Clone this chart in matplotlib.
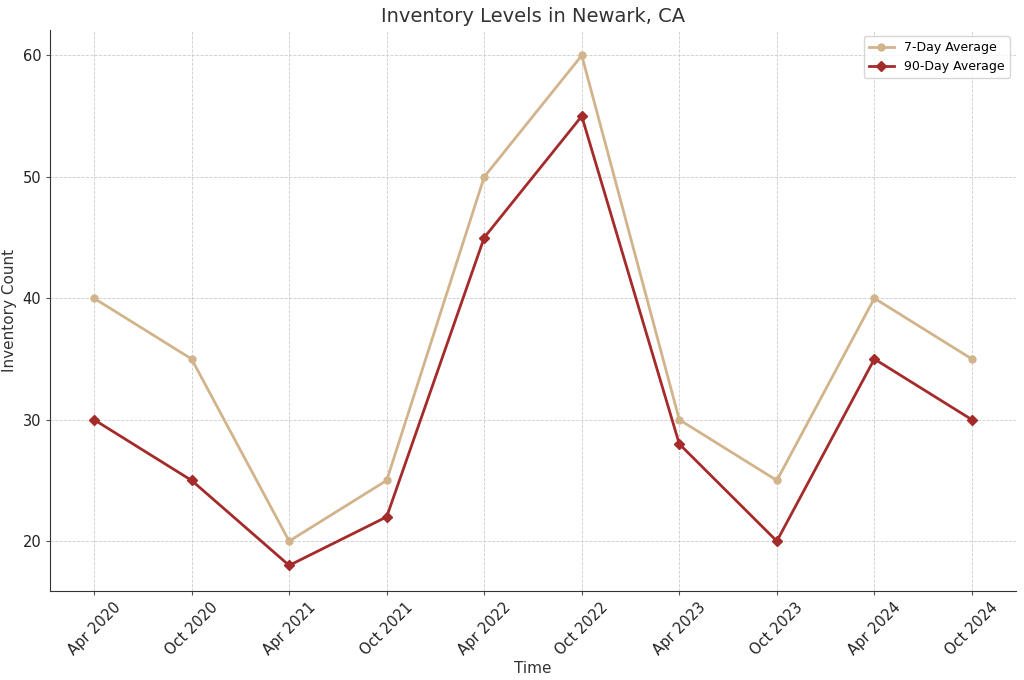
import matplotlib
matplotlib.use("Agg")
import matplotlib.pyplot as plt

# data
periods = ["Apr 2020", "Oct 2020", "Apr 2021", "Oct 2021", "Apr 2022",
           "Oct 2022", "Apr 2023", "Oct 2023", "Apr 2024", "Oct 2024"]
avg_7day = [40, 35, 20, 25, 50, 60, 30, 25, 40, 35]
avg_90day = [30, 25, 18, 22, 45, 55, 28, 20, 35, 30]

fig, ax = plt.subplots(figsize=(10.24, 6.8), dpi=100)
x = list(range(len(periods)))

ax.plot(x, avg_7day, color="#D2B48C", marker="o", markersize=5, linewidth=2, label="7-Day Average")
ax.plot(x, avg_90day, color="#A52A2A", marker="D", markersize=5, linewidth=2, label="90-Day Average")

ax.set_xticks(x)
ax.set_xticklabels(periods, rotation=45, fontsize=10.5, color="#222222")
ax.tick_params(axis="both", length=3, color="#555555", labelsize=10.5, labelcolor="#222222")
ax.set_title("Inventory Levels in Newark, CA", fontsize=14, color="#333333")
ax.set_xlabel("Time", fontsize=11, color="#333333", labelpad=2)
ax.set_ylabel("Inventory Count", fontsize=11, color="#333333")

ax.grid(True, linestyle="--", linewidth=0.6, color="#cccccc")
ax.spines["top"].set_visible(False)
ax.spines["right"].set_visible(False)
for s in ("left", "bottom"):
    ax.spines[s].set_color("#333333")
ax.legend(loc="upper right", fontsize=9)

fig.subplots_adjust(left=0.049, right=0.992, top=0.956, bottom=0.131)
fig.savefig("out.png", dpi=100)
